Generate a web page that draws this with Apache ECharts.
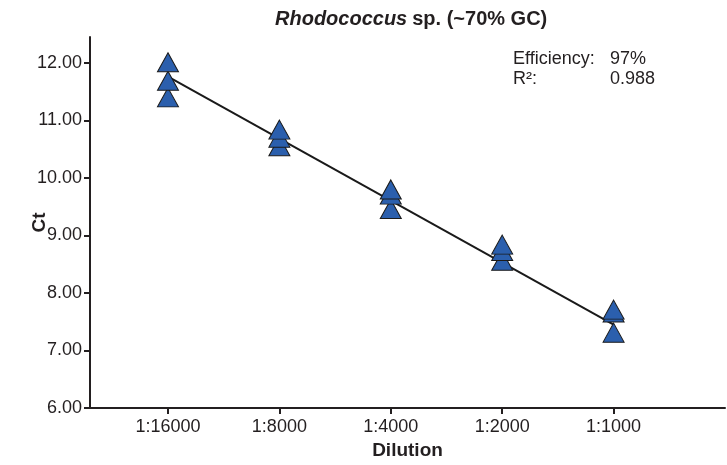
<!DOCTYPE html>
<html>
<head>
<meta charset="utf-8">
<script src="https://cdn.jsdelivr.net/npm/echarts@6/dist/echarts.min.js"></script>
<style>
  html, body { margin: 0; padding: 0; background: #fff; }
  #chart { width: 727px; height: 465px; }
</style>
</head>
<body>
<div id="chart"></div>
<script>
// dilution categories (x positions 1..5)
var dilutions = ["1:16000", "1:8000", "1:4000", "1:2000", "1:1000"];
var dilutionPos = [1, 2, 3, 4, 5];
// replicate Ct values per dilution (lowest first so upper triangles sit on top)
var ctRep1 = [11.40, 10.55, 9.46, 8.56, 7.31];
var ctRep2 = [11.69, 10.70, 9.71, 8.73, 7.66];
var ctRep3 = [12.01, 10.84, 9.80, 8.84, 7.71];
// fitted line end points [x, Ct]
var fitStart = [1, 11.76];
var fitEnd = [5, 7.45];
var yTicks = [6, 7, 8, 9, 10, 11, 12];

var points = [];
for (var i = 0; i < dilutionPos.length; i++) {
  points.push([dilutionPos[i], ctRep1[i]]);
  points.push([dilutionPos[i], ctRep2[i]]);
  points.push([dilutionPos[i], ctRep3[i]]);
}

var font = "'Liberation Sans', Arial, Helvetica, sans-serif";
var ink = "#231f20";

var chart = echarts.init(document.getElementById("chart"));
chart.setOption({
  backgroundColor: "#fff",
  animation: false,
  title: {
    text: "{i|Rhodococcus} {b|sp. (~70% GC)}",
    left: 270,
    top: 4,
    textStyle: {
      rich: {
        i: { fontFamily: font, fontSize: 20, fontWeight: "bold", fontStyle: "italic", color: ink },
        b: { fontFamily: font, fontSize: 20, fontWeight: "bold", color: ink }
      }
    }
  },
  grid: { left: 90, right: 2, top: 37, bottom: 55 },
  xAxis: {
    type: "value",
    min: 0.3,
    max: 6,
    name: "Dilution",
    nameLocation: "middle",
    nameGap: 33,
    nameMoveOverlap: false,
    nameTextStyle: { fontFamily: font, fontSize: 19, fontWeight: "bold", color: ink },
    splitLine: { show: false },
    axisLine: { lineStyle: { color: ink, width: 2 } },
    axisTick: { customValues: dilutionPos, length: 6, lineStyle: { color: ink, width: 2 } },
    axisLabel: {
      customValues: dilutionPos,
      margin: 10,
      fontFamily: font,
      fontSize: 18,
      color: ink,
      formatter: function (v) { return dilutions[Math.round(v) - 1]; }
    }
  },
  yAxis: {
    type: "value",
    min: 6,
    max: 12.45,
    name: "Ct",
    nameLocation: "middle",
    nameGap: 41,
    nameMoveOverlap: false,
    nameTextStyle: { fontFamily: font, fontSize: 19, fontWeight: "bold", color: ink },
    splitLine: { show: false },
    axisLine: { show: true, lineStyle: { color: ink, width: 2 } },
    axisTick: { show: true, customValues: yTicks, length: 6, lineStyle: { color: ink, width: 2 } },
    axisLabel: {
      customValues: yTicks,
      margin: 8,
      fontFamily: font,
      fontSize: 18,
      color: ink,
      formatter: function (v) { return v.toFixed(2); }
    }
  },
  graphic: [
    { type: "text", left: 513, top: 50, style: { text: "Efficiency:", font: "18px " + font, fill: ink } },
    { type: "text", left: 610, top: 50, style: { text: "97%", font: "18px " + font, fill: ink } },
    { type: "text", left: 513, top: 70, style: { text: "R²:", font: "18px " + font, fill: ink } },
    { type: "text", left: 610, top: 70, style: { text: "0.988", font: "18px " + font, fill: ink } }
  ],
  series: [
    {
      type: "line",
      data: [fitStart, fitEnd],
      symbol: "none",
      lineStyle: { color: "#1a1a1a", width: 2 },
      z: 2
    },
    {
      type: "scatter",
      data: points,
      symbol: "triangle",
      symbolSize: [21, 19],
      itemStyle: { color: "#2b5fad", borderColor: "#1a1a1a", borderWidth: 1, opacity: 1 },
      z: 3
    }
  ]
});
</script>
</body>
</html>
